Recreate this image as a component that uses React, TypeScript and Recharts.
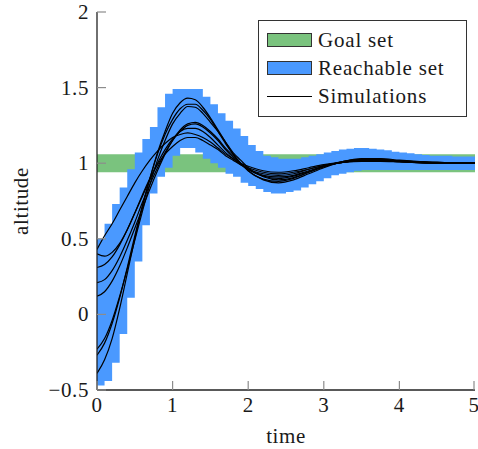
import { ComposedChart, Area, Line, XAxis, YAxis, Label } from "recharts";

// axis ticks
const xTicks = [0, 1, 2, 3, 4, 5];
const yTicks = [-0.5, 0, 0.5, 1, 1.5, 2];

// goal set band
const goalT = [0, 5];
const goalLo = 0.94;
const goalHi = 1.06;

// reachable set, one box per 0.1 s interval
const reachT = [
  0, 0.1, 0.2, 0.3, 0.4, 0.5, 0.6, 0.7, 0.8, 0.9,
  1, 1.1, 1.2, 1.3, 1.4, 1.5, 1.6, 1.7, 1.8, 1.9,
  2, 2.1, 2.2, 2.3, 2.4, 2.5, 2.6, 2.7, 2.8, 2.9,
  3, 3.1, 3.2, 3.3, 3.4, 3.5, 3.6, 3.7, 3.8, 3.9,
  4, 4.1, 4.2, 4.3, 4.4, 4.5, 4.6, 4.7, 4.8, 4.9, 5,
];
const reachLo = [
  -0.47, -0.44, -0.32, -0.13, 0.11, 0.35, 0.59, 0.8, 0.91, 0.97,
  1.05, 1.1, 1.1, 1.07, 1.03, 1.0, 0.97, 0.93, 0.91, 0.87,
  0.85, 0.83, 0.81, 0.8, 0.8, 0.81, 0.82, 0.84, 0.86, 0.88,
  0.9, 0.92, 0.93, 0.94, 0.95, 0.955, 0.955, 0.955, 0.955, 0.955,
  0.955, 0.955, 0.955, 0.955, 0.955, 0.955, 0.955, 0.955, 0.955, 0.955,
];
const reachHi = [
  0.5, 0.6, 0.73, 0.84, 0.96, 1.07, 1.16, 1.24, 1.37, 1.46,
  1.49, 1.49, 1.49, 1.49, 1.44, 1.39, 1.33, 1.28, 1.23, 1.18,
  1.12, 1.08, 1.05, 1.04, 1.03, 1.03, 1.03, 1.04, 1.05, 1.06,
  1.07, 1.08, 1.09, 1.095, 1.1, 1.1, 1.095, 1.09, 1.085, 1.075,
  1.07, 1.065, 1.06, 1.055, 1.05, 1.05, 1.05, 1.045, 1.045, 1.045,
];

// simulated trajectories
const simT = [
  0, 0.1, 0.2, 0.3, 0.4, 0.5, 0.6, 0.7, 0.8, 0.9, 1, 1.1, 1.2, 1.3, 1.4, 1.5,
  1.6, 1.7, 1.8, 1.9, 2, 2.2, 2.4, 2.6, 2.8, 3, 3.25, 3.5, 3.75, 4, 4.5, 5,
];
const simA = [
  -0.39, -0.3, -0.16, 0.04, 0.27, 0.5, 0.71, 0.9, 1.07, 1.21, 1.33, 1.4, 1.43, 1.42, 1.37, 1.3,
  1.22, 1.14, 1.06, 1.0, 0.95, 0.89, 0.87, 0.89, 0.93, 0.97, 1.01, 1.03, 1.03, 1.02, 1.005, 1.0,
];
const simB = [
  -0.27, -0.19, -0.06, 0.11, 0.31, 0.52, 0.72, 0.9, 1.06, 1.19, 1.29, 1.36, 1.39, 1.39, 1.35, 1.29,
  1.21, 1.13, 1.06, 1.0, 0.95, 0.895, 0.88, 0.9, 0.94, 0.975, 1.01, 1.025, 1.025, 1.015, 1.005, 1.0,
];
const simC = [
  -0.23, -0.16, -0.04, 0.12, 0.3, 0.49, 0.68, 0.86, 1.02, 1.15, 1.26, 1.33, 1.375, 1.37, 1.33, 1.27,
  1.21, 1.14, 1.07, 1.02, 0.97, 0.91, 0.89, 0.905, 0.94, 0.98, 1.01, 1.025, 1.025, 1.015, 1.005, 1.0,
];
const simD = [
  0.43, 0.52, 0.6, 0.69, 0.78, 0.87, 0.95, 1.02, 1.08, 1.13, 1.17, 1.19, 1.2, 1.19, 1.17, 1.14,
  1.1, 1.06, 1.03, 1.0, 0.98, 0.95, 0.94, 0.95, 0.97, 0.99, 1.005, 1.012, 1.012, 1.008, 1.0, 1.0,
];
const simE = [
  0.4, 0.385, 0.41, 0.47, 0.56, 0.67, 0.78, 0.89, 0.99, 1.06, 1.11, 1.15, 1.17, 1.17, 1.15, 1.12,
  1.09, 1.05, 1.02, 0.99, 0.97, 0.94, 0.93, 0.94, 0.96, 0.985, 1.005, 1.015, 1.015, 1.01, 1.0, 1.0,
];
const simF = [
  0.31, 0.33, 0.38, 0.46, 0.56, 0.67, 0.79, 0.9, 1.0, 1.09, 1.16, 1.21, 1.23, 1.23, 1.21, 1.17,
  1.12, 1.07, 1.03, 0.99, 0.96, 0.93, 0.92, 0.93, 0.96, 0.985, 1.005, 1.018, 1.018, 1.01, 1.0, 1.0,
];
const simG = [
  0.21, 0.23, 0.29, 0.38, 0.49, 0.61, 0.74, 0.86, 0.97, 1.07, 1.15, 1.21, 1.25, 1.26, 1.24, 1.2,
  1.15, 1.09, 1.04, 1.0, 0.96, 0.92, 0.91, 0.92, 0.95, 0.98, 1.005, 1.02, 1.02, 1.012, 1.002, 1.0,
];
const simH = [
  0.12, 0.15, 0.22, 0.32, 0.44, 0.57, 0.7, 0.83, 0.95, 1.06, 1.15, 1.22, 1.26, 1.27, 1.25, 1.21,
  1.16, 1.1, 1.05, 1.0, 0.96, 0.915, 0.9, 0.915, 0.945, 0.98, 1.005, 1.02, 1.02, 1.012, 1.002, 1.0,
];
const sims = [simA, simB, simC, simD, simE, simF, simG, simH];

const GREEN = "#7ac37e";
const BLUE = "#4a99ff";
const FONT = "Liberation Serif, DejaVu Serif, serif";

const goalData = goalT.map((t) => ({ t, band: [goalLo, goalHi] }));
const reachData = reachT.map((t, i) => {
  const k = Math.min(i, reachLo.length - 1);
  return { t, band: [reachLo[k], reachHi[k]] };
});
const simData = simT.map((t, i) => {
  const row: Record<string, number> = { t };
  sims.forEach((s, j) => (row["s" + j] = s[i]));
  return row;
});

const fmt = (v: number) => (v < 0 ? "\u2212" + Math.abs(v) : String(v));
const textStyle = { fontFamily: FONT, fontSize: 21, fill: "#1a1a1a", letterSpacing: 0.6 };
const TICK = "#8c8c8c";
const TICK_LEN = 9;
const frame = { stroke: "#222", strokeWidth: 1.3 };

const BottomTick = ({ x, y, payload }: any) => (
  <g>
    <line x1={x} x2={x} y1={y} y2={y - TICK_LEN} stroke={TICK} strokeWidth={1.2} />
    <text x={x} y={y + 22} textAnchor="middle" {...textStyle}>
      {fmt(payload.value)}
    </text>
  </g>
);
const TopTick = ({ x, y }: any) => (
  <line x1={x} x2={x} y1={y} y2={y + TICK_LEN} stroke={TICK} strokeWidth={1.2} />
);
const LeftTick = ({ x, y, payload }: any) => (
  <g>
    <line x1={x} x2={x + TICK_LEN} y1={y} y2={y} stroke={TICK} strokeWidth={1.2} />
    <text x={x - 8} y={y} textAnchor="end" dominantBaseline="central" {...textStyle}>
      {fmt(payload.value)}
    </text>
  </g>
);
const RightTick = ({ x, y }: any) => (
  <line x1={x} x2={x - TICK_LEN} y1={y} y2={y} stroke={TICK} strokeWidth={1.2} />
);

const LegendBox = () => {
  const row = { display: "flex", alignItems: "center", height: 28 } as const;
  const swatch = (color: string) => ({
    width: 45,
    height: 14,
    marginLeft: 8,
    marginRight: 6,
    background: color,
    border: "1px solid #333",
    boxSizing: "border-box" as const,
  });
  const label = { fontFamily: FONT, fontSize: 21, color: "#1a1a1a", letterSpacing: 0.8, lineHeight: "28px" };
  return (
    <div
      style={{
        position: "absolute",
        left: 258,
        top: 20,
        width: 209,
        height: 97,
        boxSizing: "border-box",
        border: "1.2px solid #333",
        background: "#fff",
        paddingTop: 5,
      }}
    >
      <div style={row}>
        <div style={swatch(GREEN)} />
        <span style={label}>Goal set</span>
      </div>
      <div style={row}>
        <div style={swatch(BLUE)} />
        <span style={label}>Reachable set</span>
      </div>
      <div style={row}>
        <div style={{ width: 45, marginLeft: 8, marginRight: 6, borderTop: "1.3px solid #000" }} />
        <span style={label}>Simulations</span>
      </div>
    </div>
  );
};

export default function App() {
  return (
    <div style={{ position: "absolute", left: 0, top: 0, width: 478, height: 449 }}>
      <ComposedChart width={478} height={449} margin={{ top: 12, right: 3, bottom: 0, left: 0 }}>
        <XAxis
          dataKey="t"
          type="number"
          domain={[0, 5]}
          ticks={xTicks}
          height={59}
          tickSize={0}
          tickMargin={0}
          tickLine={false}
          axisLine={frame}
          tick={<BottomTick />}
          allowDataOverflow
        >
          <Label
            content={({ viewBox }: any) => (
              <text
                x={viewBox.x + viewBox.width / 2}
                y={viewBox.y + viewBox.height - 6}
                textAnchor="middle"
                {...textStyle}
              >
                time
              </text>
            )}
          />
        </XAxis>
        <XAxis
          xAxisId="top"
          orientation="top"
          type="number"
          domain={[0, 5]}
          ticks={xTicks}
          height={0}
          tickSize={0}
          tickMargin={0}
          tickLine={false}
          axisLine={frame}
          tick={<TopTick />}
        />
        <YAxis
          type="number"
          domain={[-0.5, 2]}
          ticks={yTicks}
          width={97}
          tickSize={0}
          tickMargin={0}
          tickLine={false}
          axisLine={frame}
          tick={<LeftTick />}
          allowDataOverflow
        >
          <Label
            content={({ viewBox }: any) => {
              const cx = viewBox.x + 21;
              const cy = viewBox.y + viewBox.height / 2;
              return (
                <text
                  x={cx}
                  y={cy}
                  textAnchor="middle"
                  dominantBaseline="central"
                  transform={`rotate(-90, ${cx}, ${cy})`}
                  {...textStyle}
                >
                  altitude
                </text>
              );
            }}
          />
        </YAxis>
        <YAxis
          yAxisId="right"
          orientation="right"
          type="number"
          domain={[-0.5, 2]}
          ticks={yTicks}
          width={0}
          tickSize={0}
          tickMargin={0}
          tickLine={false}
          axisLine={frame}
          tick={<RightTick />}
        />
        <Area
          data={goalData}
          dataKey="band"
          type="linear"
          fill={GREEN}
          fillOpacity={1}
          stroke="none"
          isAnimationActive={false}
        />
        <Area
          data={reachData}
          dataKey="band"
          type="stepAfter"
          fill={BLUE}
          fillOpacity={1}
          stroke="none"
          isAnimationActive={false}
        />
        {sims.map((_, j) => (
          <Line
            key={j}
            data={simData}
            dataKey={"s" + j}
            type="monotone"
            stroke="#000"
            strokeWidth={1.2}
            dot={false}
            isAnimationActive={false}
          />
        ))}
      </ComposedChart>
      <LegendBox />
    </div>
  );
}
